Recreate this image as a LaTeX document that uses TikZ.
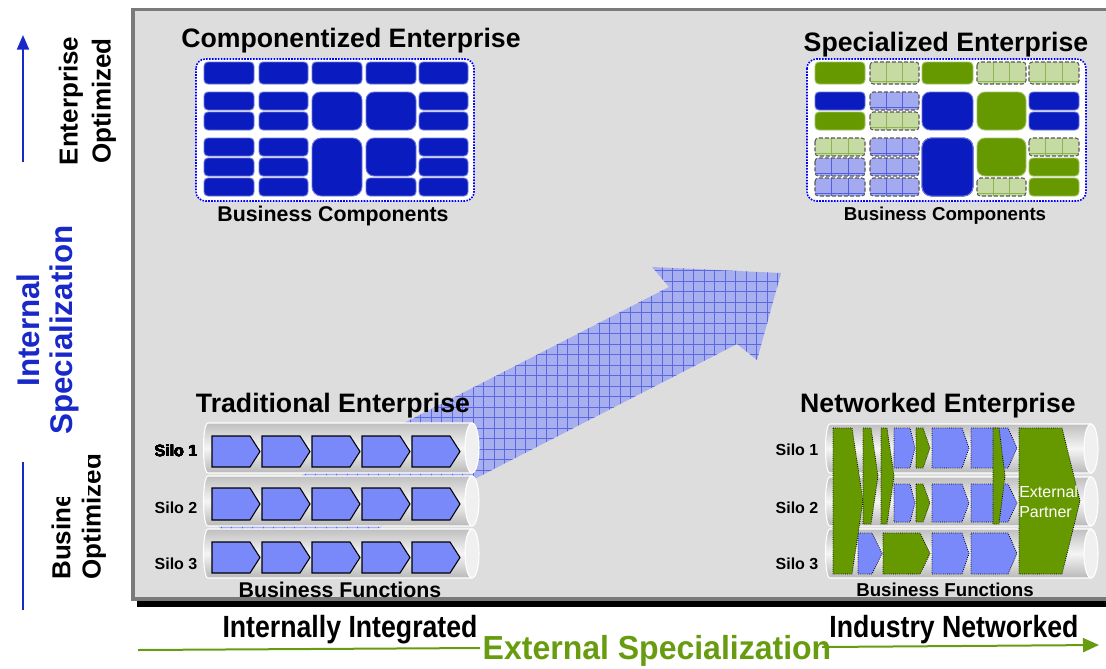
\documentclass[tikz,border=0pt]{standalone}
\usepackage{fontspec}
\setmainfont{Liberation Sans}
\usetikzlibrary{arrows.meta}

\definecolor{framefill}{RGB}{221,221,221}
\definecolor{frameline}{RGB}{122,122,122}
\definecolor{compblue}{RGB}{10,28,192}
\definecolor{funcblue}{RGB}{122,137,250}
\definecolor{leafgreen}{RGB}{102,153,0}
\definecolor{palegreen}{RGB}{198,219,163}
\definecolor{palegreenline}{RGB}{140,180,80}
\definecolor{paleblue}{RGB}{164,170,240}
\definecolor{palebluelin}{RGB}{80,95,225}
\definecolor{axisblue}{RGB}{25,40,200}
\definecolor{axisgreen}{RGB}{104,156,16}
\definecolor{hatchfill}{RGB}{168,175,238}
\definecolor{hatchline}{RGB}{90,105,225}

\tikzset{
  heading/.style={font=\bfseries\fontsize{20}{24}\selectfont},
  caption/.style={font=\bfseries\fontsize{16}{19}\selectfont},
  smallcaption/.style={font=\bfseries\fontsize{14}{17}\selectfont},
  silolabel/.style={font=\bfseries\fontsize{12}{14}\selectfont},
  sidelabel/.style={font=\bfseries\fontsize{19.5}{23}\selectfont, inner sep=0pt},
  bluehead/.style={font=\bfseries\fontsize{23.5}{28}\selectfont, text=axisblue, inner sep=0pt},
  axislabel/.style={font=\bfseries\fontsize{23}{27}\selectfont},
  greenhead/.style={font=\bfseries\fontsize{25}{29}\selectfont, text=axisgreen, inner sep=1pt},
  partner/.style={font=\fontsize{12}{15}\selectfont, text=white, inner sep=0pt},
  compbox/.style={fill=#1, draw=#1!60!white, line width=0.7pt, rounded corners=3pt},
  compbox/.default=compblue,
  container/.style={draw=blue, densely dotted, line width=1.2pt, fill=white, rounded corners=7pt},
  chevron/.style={fill=funcblue, draw=black, line width=0.8pt},
  netshape/.style={fill=#1, draw=black, densely dotted, line width=0.6pt},
}

% cylinder lying on its side: left x, centre of end face, top, bottom
\newcommand{\silotube}[4]{%
  \shadedraw[top color=gray!50, bottom color=gray!55, middle color=gray!8, draw=white, line width=0.8pt]
    (#2,#3) -- (#1+5,#3) .. controls (#1-1,#3) and (#1-1,#4) .. (#1+5,#4) -- (#2,#4) -- cycle;
  \filldraw[fill=gray!12, draw=white, line width=0.8pt] (#2,{(#3+#4)/2}) ellipse [x radius=7, y radius={(#4-#3)/2}];
}

% arrow shaped step: left x, top, end of body, tip, bottom, style
\newcommand{\chevshape}[6]{%
  \draw[#6] (#1,#2) -- (#3,#2) -- (#4,{(#2+#5)/2}) -- (#3,#5) -- (#1,#5) -- cycle;
}

% outsourced component with its little grid
\newcommand{\palecell}[6]{%
  \fill[#5, rounded corners=2.5pt] (#1,#2) rectangle (#3,#4);
  \draw[#6, line width=0.5pt] ({#1+(#3-#1)/3},#2) -- ({#1+(#3-#1)/3},#4)
    ({#1+2*(#3-#1)/3},#2) -- ({#1+2*(#3-#1)/3},#4)
    (#1,{#4-3}) -- (#3,{#4-3});
  \draw[gray!70!black, dash pattern=on 3pt off 1.5pt, line width=0.8pt, rounded corners=2.5pt] (#1,#2) rectangle (#3,#4);
}

\begin{document}
\begin{tikzpicture}[x=0.75pt, y=0.75pt, yscale=-1]
\useasboundingbox (0,0) rectangle (1106,668);

% panel
\filldraw[fill=framefill, draw=frameline, line width=2.6pt] (133,9.5) rectangle (1115,599);
\fill[black] (137,601) rectangle (1106,607);

% big hatched arrow
\begin{scope}
  \clip (215,520) -- (669,287) -- (652,267) -- (781,273) -- (757,360) -- (737,344) -- (284,577) -- (250,577) -- cycle;
  \fill[hatchfill] (200,260) rectangle (790,580);
  \foreach \gx in {200,210.5,...,790} \draw[hatchline, line width=0.35pt] (\gx,260) -- (\gx,580);
  \foreach \gy in {260,270.5,...,580} \draw[hatchline, line width=0.35pt] (200,\gy) -- (790,\gy);
\end{scope}

% vertical axis
\coordinate (esFoot) at (23,162);
\coordinate (esTop) at (23,35);
\draw[axisblue, line width=1.6pt, -{Triangle[length=11pt, width=9pt]}] (esFoot) -- (esTop);
\begin{scope}
  \clip (50,20) rectangle (90,163);
  \node[sidelabel, rotate=90] (entword) at (71,101) {Enterprise};
\end{scope}
\node[sidelabel, rotate=90] (entopt) at (104,101) {Optimized};
\node[sidelabel, rotate=90, anchor=west] (busword) at (61,580) {Business};
\node[sidelabel, rotate=90, anchor=west] (busopt) at (94,580) {Optimized};
\fill[white] (8,190) rectangle (88,497);
\node[bluehead, rotate=90] (intword) at (28,330) {Internal};
\node[bluehead, rotate=90] (specword) at (64,330) {Specialization};
\coordinate (bsTop) at (23,462);
\coordinate (bsFoot) at (23,610);
\draw[axisblue, line width=1.6pt] (bsTop) -- (bsFoot);

% horizontal axis
\node[axislabel] (intint) at (350,630) {\scalebox{0.87}[1]{Internally Integrated}};
\node[axislabel] (indnet) at (954,630) {\scalebox{0.87}[1]{Industry Networked}};
\node[greenhead] (extspec) at (657,651) {\scalebox{0.96}[1]{External Specialization}};
\coordinate (xsStart) at (138,650);
\coordinate (xsGap) at (480,648);
\coordinate (xsResume) at (822,647);
\coordinate (xsEnd) at (1099,645);
\draw[axisgreen, line width=1.5pt] (xsStart) -- (xsGap);
\draw[axisgreen, line width=1.5pt, -{Triangle[length=12pt, width=10.5pt]}] (xsResume) -- (xsEnd);

% componentized enterprise
\node[heading] (comptitle) at (351,41) {Componentized Enterprise};
\draw[container] (196,59) rectangle (474,201);
\foreach \xa/\xb in {204/254,259/308,312/362,366/416,419/468}
  \draw[compbox] (\xa,62) rectangle (\xb,84);
\foreach \xa/\xb in {204/254,259/308,419/468} {
  \draw[compbox] (\xa,92) rectangle (\xb,110);
  \draw[compbox] (\xa,112) rectangle (\xb,130);
  \draw[compbox] (\xa,138) rectangle (\xb,156);
  \draw[compbox] (\xa,158) rectangle (\xb,176);
  \draw[compbox] (\xa,178) rectangle (\xb,196);
}
\draw[compbox, rounded corners=6pt] (312,92) rectangle (362,130);
\draw[compbox, rounded corners=6pt] (366,92) rectangle (416,130);
\draw[compbox, rounded corners=7pt] (312,138) rectangle (362,196);
\draw[compbox, rounded corners=6pt] (366,138) rectangle (416,176);
\draw[compbox] (366,178) rectangle (416,196);
\node[caption] (compcap) at (333,216) {Business Components};

% specialized enterprise
\node[heading] (spectitle) at (946,45) {Specialized Enterprise};
\draw[container] (807,59) rectangle (1086,201);
\draw[compbox=leafgreen] (815,62) rectangle (865,84);
\palecell{870}{62}{919}{84}{palegreen}{palegreenline}
\draw[compbox=leafgreen] (922,62) rectangle (973,84);
\palecell{977}{62}{1026}{84}{palegreen}{palegreenline}
\palecell{1029}{62}{1079}{84}{palegreen}{palegreenline}
\draw[compbox] (815,92) rectangle (865,110);
\draw[compbox=leafgreen] (815,112) rectangle (865,130);
\palecell{870}{92}{919}{110}{paleblue}{palebluelin}
\palecell{870}{112}{919}{130}{palegreen}{palegreenline}
\draw[compbox, rounded corners=6pt] (922,92) rectangle (973,130);
\draw[compbox=leafgreen, rounded corners=6pt] (977,92) rectangle (1026,130);
\draw[compbox] (1029,92) rectangle (1079,110);
\draw[compbox] (1029,112) rectangle (1079,130);
\palecell{815}{138}{865}{156}{palegreen}{palegreenline}
\palecell{815}{158}{865}{176}{paleblue}{palebluelin}
\palecell{815}{178}{865}{196}{paleblue}{palebluelin}
\foreach \ya/\yb in {138/156,158/176,178/196}
  \palecell{870}{\ya}{919}{\yb}{paleblue}{palebluelin}
\draw[compbox, rounded corners=7pt] (922,138) rectangle (973,196);
\draw[compbox=leafgreen, rounded corners=6pt] (977,138) rectangle (1026,176);
\palecell{977}{178}{1026}{196}{palegreen}{palegreenline}
\palecell{1029}{138}{1079}{156}{palegreen}{palegreenline}
\draw[compbox=leafgreen] (1029,158) rectangle (1079,176);
\draw[compbox=leafgreen] (1029,178) rectangle (1079,196);
\node[smallcaption] (speccap) at (945,216) {Business Components};

% traditional enterprise
\node[heading] (tradtitle) at (333,406) {Traditional Enterprise};
\silotube{203}{472}{423}{473}
\silotube{203}{472}{476}{526}
\silotube{203}{472}{529}{578}
\foreach \yt/\yb in {436/467,488/520,542/573}
  \foreach \x in {212,262,312,362,412}
    \chevshape{\x}{\yt}{\x+38}{\x+48}{\yb}{chevron}
\node[silolabel] (tsilo1) at (176,451) {Silo 1};
\node[silolabel] (tsilo2) at (176,508) {Silo 2};
\node[silolabel] (tsilo3) at (176,564) {Silo 3};
\node[caption] (tradcap) at (340,590) {Business Functions};

% networked enterprise
\node[heading] (nettitle) at (938,406) {Networked Enterprise};
\silotube{825}{1091}{424}{473}
\silotube{825}{1091}{477}{526}
\silotube{825}{1091}{529}{578}
\foreach \yt/\yb in {428/468,484/522} {
  \chevshape{894}{\yt}{910}{915}{\yb}{netshape=funcblue}
  \chevshape{916}{\yt}{923}{930}{\yb}{netshape=leafgreen}
  \chevshape{932}{\yt}{962}{969}{\yb}{netshape=funcblue}
  \chevshape{971}{\yt}{1008}{1017}{\yb}{netshape=funcblue}
}
\chevshape{858}{533}{872}{882}{574}{netshape=funcblue}
\chevshape{883}{533}{920}{930}{574}{netshape=leafgreen}
\chevshape{932}{533}{962}{969}{574}{netshape=funcblue}
\chevshape{971}{533}{1008}{1017}{574}{netshape=funcblue}
\chevshape{833}{428}{852}{863}{574}{netshape=leafgreen}
\chevshape{863}{428}{871}{878}{524}{netshape=leafgreen}
\chevshape{881}{428}{887}{894}{524}{netshape=leafgreen}
\chevshape{993}{428}{999}{1005}{524}{netshape=leafgreen}
\chevshape{1019}{428}{1062}{1080}{574}{netshape=leafgreen}
\node[partner, anchor=west, align=left] (extpartner) at (1019,502) {External\\Partner};
\node[silolabel] (nsilo1) at (797,450) {Silo 1};
\node[silolabel] (nsilo2) at (797,508) {Silo 2};
\node[silolabel] (nsilo3) at (797,564) {Silo 3};
\node[smallcaption] (netcap) at (945,590) {Business Functions};
\end{tikzpicture}
\end{document}
